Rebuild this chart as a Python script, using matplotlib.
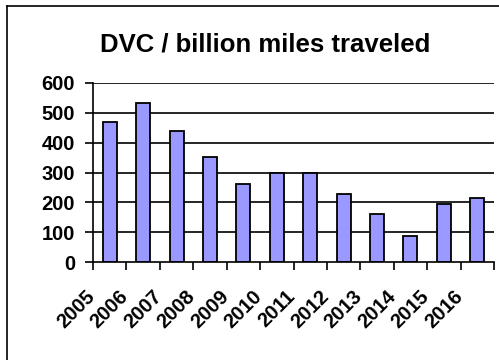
import matplotlib
matplotlib.use("Agg")
import matplotlib.pyplot as plt
import numpy as np
from matplotlib.lines import Line2D
from matplotlib.transforms import ScaledTranslation

years = ["2005", "2006", "2007", "2008", "2009", "2010", "2011", "2012",
         "2013", "2014", "2015", "2016"]
values = [468, 534, 440, 353, 260, 300, 300, 227, 161, 88, 194, 214]
yticks = [0, 100, 200, 300, 400, 500, 600]
title = "DVC / billion miles traveled"

plt.rcParams['font.family'] = ['Liberation Sans', 'DejaVu Sans']

W, H = 499, 360
fig = plt.figure(figsize=(W / 100, H / 100), dpi=100)
ax = fig.add_axes([93 / W, 1 - 262 / H, (494 - 93) / W, (262 - 83) / H])

x = np.arange(len(years)) + 0.5
ax.bar(x, values, width=0.42, color="#9999FF", edgecolor="black",
       linewidth=1.3, zorder=3)

ax.set_xlim(0, len(years))
ax.set_ylim(0, 600)
ax.set_yticks(yticks)
ax.set_yticklabels([str(v) for v in yticks], fontsize=14.5, fontweight="bold")
for v in yticks[1:]:
    ax.axhline(v, color="black", linewidth=1.2, zorder=1)

ax.set_xticks(x)
ax.set_xticklabels(years, rotation=45, ha="right", va="top",
                   fontsize=14.5, fontweight="bold")
ax.set_xticks(np.arange(len(years) + 1), minor=True)
ax.tick_params(axis="x", which="major", length=0, pad=18)
ax.tick_params(axis="x", which="minor", length=6, width=1.2, direction="out")
ax.tick_params(axis="y", length=6, width=1.2, direction="out", pad=7)

off = ScaledTranslation(-11 / 100, 0, fig.dpi_scale_trans)
for lab in ax.get_xticklabels():
    lab.set_transform(lab.get_transform() + off)

for s in ["top", "right"]:
    ax.spines[s].set_visible(False)
for s in ["left", "bottom"]:
    ax.spines[s].set_linewidth(1.2)
    ax.spines[s].set_zorder(4)

fig.text(265 / W, 1 - 45 / H, title, ha="center", va="center",
         fontsize=18.5, fontweight="bold")

fig.add_artist(Line2D([7 / W, 7 / W], [0, 1 - 6 / H], transform=fig.transFigure,
                      color="black", linewidth=1.2))
fig.add_artist(Line2D([7 / W, 1], [1 - 6 / H, 1 - 6 / H], transform=fig.transFigure,
                      color="black", linewidth=1.2))

fig.savefig("out.png", dpi=100)
